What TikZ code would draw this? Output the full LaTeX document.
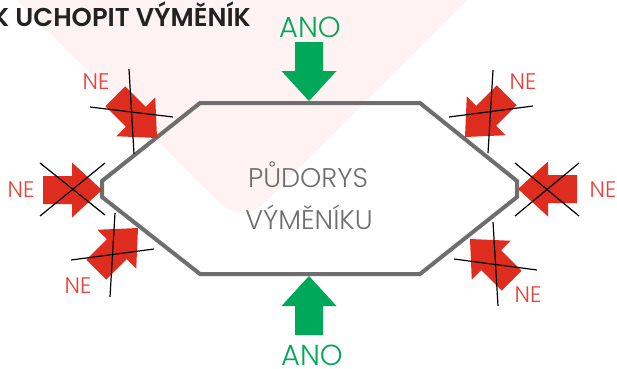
\documentclass[tikz,border=0pt]{standalone}
\usepackage{fontspec}
\setmainfont{Poppins}[UprightFont=* Light, BoldFont=* SemiBold]
\definecolor{arrred}{HTML}{DE2D1E}
\definecolor{nered}{HTML}{E8413A}
\definecolor{anogreen}{HTML}{00A859}
\definecolor{hexgray}{HTML}{6E6E6E}
\definecolor{pinkbg}{HTML}{FEF3F2}
\definecolor{titlecol}{HTML}{222222}
\newcommand\fatarrow[3]{\fill[#1, shift={(#2)}, rotate=#3] (0,0) -- (-30,-27.5) -- (-30,-14) -- (-59,-14) -- (-59,14) -- (-30,14) -- (-30,27.5) -- cycle;}
\tikzset{
  x=1pt, y=-1pt,
  hexline/.style={draw=hexgray, line width=4pt, line join=miter},
  crossline/.style={draw=black, line width=1.2pt},
  nelabel/.style={text=nered, font=\fontsize{22.5}{22.5}\selectfont, inner sep=0pt},
  anolabel/.style={text=anogreen, font=\fontsize{29}{29}\selectfont, inner sep=0pt, anchor=base},
  centerlabel/.style={text=hexgray, font=\fontsize{27}{27}\selectfont, inner sep=0pt, anchor=base},
}
\begin{document}
\begin{tikzpicture}
\clip (0,0) rectangle (617,368);
\fill[white] (0,0) rectangle (617,368);
% faint background shape
\fill[pinkbg, rounded corners=30pt] (-13,-30) -- (242,225) -- (497,-30) -- cycle;
% title
\node[anchor=base east, inner sep=0pt, text=titlecol, font=\fontsize{25.8}{25.8}\selectfont\bfseries] (title) at (251,26) {K UCHOPIT VÝMĚNÍK};
% hexagon
\coordinate (h1) at (200,103);
\coordinate (h2) at (420,103);
\coordinate (h3) at (517,181);
\coordinate (h4) at (517,197);
\coordinate (h5) at (420,274);
\coordinate (h6) at (200,274);
\coordinate (h7) at (102,197);
\coordinate (h8) at (102,181);
\draw[hexline] (h1) -- (h2) -- (h3) -- (h4) -- (h5) -- (h6) -- (h7) -- (h8) -- cycle;
\node[centerlabel] (t1) at (308,187) {PŮDORYS};
\node[centerlabel] (t2) at (309,229) {VÝMĚNÍKU};
% green arrows
\coordinate (gtop) at (309,101);
\coordinate (gbot) at (309,276);
\fatarrow{anogreen}{gtop}{-90}
\fatarrow{anogreen}{gbot}{90}
\node[anolabel] (anotop) at (310,37) {ANO};
\node[anolabel] (anobot) at (312,365) {ANO};
% red arrows
\coordinate (tLM) at (102,190);
\coordinate (tRM) at (518,189);
\coordinate (tUL) at (157,138);
\coordinate (tLL) at (138,228);
\coordinate (tUR) at (465,137);
\coordinate (tLR) at (470,239);
\fatarrow{arrred}{tLM}{0}
\fatarrow{arrred}{tRM}{180}
\fatarrow{arrred}{tUL}{-45}
\fatarrow{arrred}{tLL}{45}
\fatarrow{arrred}{tUR}{-135}
\fatarrow{arrred}{tLR}{135}
% crosses
\coordinate (a1) at (40,163); \coordinate (a2) at (105,215);
\coordinate (a3) at (40,216); \coordinate (a4) at (105,163);
\draw[crossline] (a1) -- (a2); \draw[crossline] (a3) -- (a4);
\coordinate (b1) at (515,163); \coordinate (b2) at (579,216);
\coordinate (b3) at (515,216); \coordinate (b4) at (579,163);
\draw[crossline] (b1) -- (b2); \draw[crossline] (b3) -- (b4);
\coordinate (c1) at (129,69); \coordinate (c2) at (134,154);
\coordinate (c3) at (90,107); \coordinate (c4) at (173,117);
\draw[crossline] (c1) -- (c2); \draw[crossline] (c3) -- (c4);
\coordinate (d1) at (115,213); \coordinate (d2) at (110,297);
\coordinate (d3) at (71,260); \coordinate (d4) at (154,249);
\draw[crossline] (d1) -- (d2); \draw[crossline] (d3) -- (d4);
\coordinate (e1) at (493,70); \coordinate (e2) at (488,153);
\coordinate (e3) at (449,117); \coordinate (e4) at (533,106);
\draw[crossline] (e1) -- (e2); \draw[crossline] (e3) -- (e4);
\coordinate (f1) at (493,222); \coordinate (f2) at (498,306);
\coordinate (f3) at (454,259); \coordinate (f4) at (537,270);
\draw[crossline] (f1) -- (f2); \draw[crossline] (f3) -- (f4);
% NE labels
\node[nelabel] (neUL) at (96,82) {NE};
\node[nelabel] (neLM) at (21,190) {NE};
\node[nelabel] (neLL) at (78,285.5) {NE};
\node[nelabel] (neUR) at (523,82) {NE};
\node[nelabel] (neRM) at (603,190) {NE};
\node[nelabel] (neLR) at (528,294.5) {NE};
\end{tikzpicture}
\end{document}
